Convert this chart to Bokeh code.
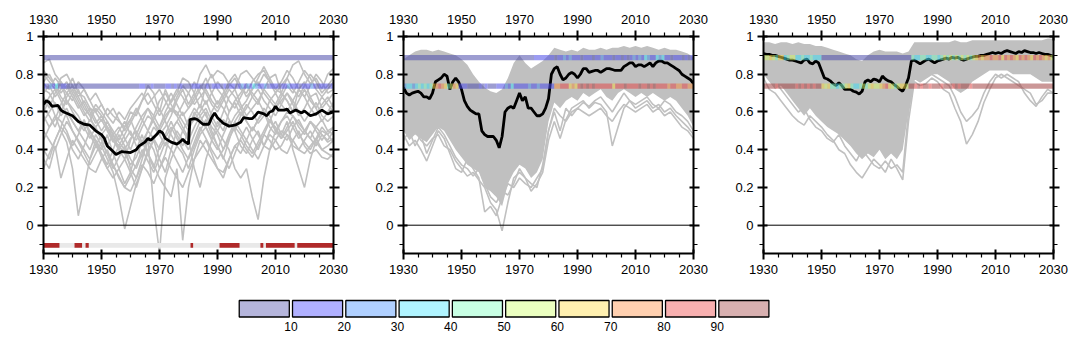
from bokeh.plotting import figure
from bokeh.models import Range1d, LinearAxis, FixedTicker, Span, CustomLabelingPolicy
from bokeh.layouts import column, row
from bokeh.core.properties import value
from bokeh.embed import file_html
from bokeh.resources import INLINE

FONT = "Liberation Sans"

# ---------------- data ----------------
X_MAJOR = [1930, 1950, 1970, 1990, 2010, 2030]
X_MINOR = [1935, 1940, 1945, 1955, 1960, 1965, 1975, 1980, 1985, 1995, 2000, 2005, 2015, 2020, 2025]
Y_MAJOR = [0, 0.2, 0.4, 0.6, 0.8, 1.0]
Y_LABELS = ["0", "0.2", "0.4", "0.6", "0.8", "1"]
Y_MINOR = [-0.1, 0.1, 0.3, 0.5, 0.7, 0.9]

YEARS2 = list(range(1930, 2031, 2))     # gray member lines
YEARS1 = list(range(1930, 2031))        # annual black lines
BAND_START = 1930
BAND_LEVELS = [0.888, 0.737]

# colour bar
CB_LEVELS = [0, 10, 20, 30, 40, 50, 60, 70, 80, 90, 100]
CB_LABELS = [10, 20, 30, 40, 50, 60, 70, 80, 90]
CB_COLORS = ["#b5b5dc", "#b0b0ff", "#b0d0ff", "#b0f4ff", "#c8ffe4",
             "#ebffc0", "#fff0b0", "#ffd0b0", "#f8b0b0", "#d8b0b0"]
BAND_COLORS = ["#4d4dab", "#4a4ae8", "#4a8ee8", "#41d8f0", "#7bf0be",
               "#cff068", "#f0d041", "#f08e41", "#e04848", "#a14141"]

# ---- panel 1 ----
P1_BLACK_YEARS = [1930, 1931, 1932, 1933, 1935, 1936, 1937, 1940, 1942, 1944, 1946, 1948,
                  1950, 1951, 1952, 1954, 1955, 1957, 1960, 1962, 1963, 1965, 1966, 1967, 1969,
                  1970, 1971, 1972, 1974, 1976, 1977, 1978, 1979, 1980, 1980.5, 1982, 1983, 1985,
                  1987, 1988, 1989, 1990, 1992, 1994, 1996, 1998, 1999, 2001, 2002, 2003, 2004,
                  2006, 2007, 2008, 2009, 2010, 2011, 2013, 2014, 2015, 2017, 2019, 2020, 2022,
                  2024, 2026, 2028, 2030]
P1_BLACK = [0.64, 0.66, 0.65, 0.63, 0.635, 0.61, 0.60, 0.58, 0.55, 0.535, 0.53, 0.50,
            0.48, 0.46, 0.42, 0.39, 0.375, 0.39, 0.385, 0.40, 0.42, 0.44, 0.46, 0.45, 0.48,
            0.50, 0.49, 0.46, 0.44, 0.43, 0.44, 0.455, 0.44, 0.43, 0.56, 0.565, 0.56, 0.535,
            0.535, 0.57, 0.595, 0.57, 0.54, 0.525, 0.53, 0.545, 0.57, 0.565, 0.565, 0.58, 0.60,
            0.59, 0.58, 0.60, 0.605, 0.63, 0.61, 0.61, 0.615, 0.595, 0.61, 0.595, 0.605, 0.58,
            0.59, 0.61, 0.59, 0.60]

P1_GRAY = [
    [0.86, 0.88, 0.80, 0.76, 0.72, 0.78, 0.70, 0.68, 0.62, 0.60,
     0.55, 0.62, 0.58, 0.55, 0.52, 0.60, 0.58, 0.66, 0.74, 0.70,
     0.60, 0.72, 0.65, 0.70, 0.78, 0.76, 0.70, 0.80, 0.85, 0.78,
     0.82, 0.80, 0.75, 0.72, 0.80, 0.82, 0.78, 0.74, 0.80, 0.76,
     0.72, 0.70, 0.78, 0.85, 0.87, 0.80, 0.75, 0.78, 0.72, 0.80, 0.83],
    [0.75, 0.72, 0.78, 0.74, 0.70, 0.66, 0.72, 0.64, 0.58, 0.50,
     0.46, 0.42, 0.48, 0.40, 0.35, 0.45, 0.52, 0.58, 0.62, 0.55,
     0.48, 0.52, 0.58, 0.66, 0.72, 0.64, 0.70, 0.62, 0.74, 0.80,
     0.72, 0.68, 0.60, 0.66, 0.70, 0.75, 0.68, 0.64, 0.72, 0.78,
     0.80, 0.70, 0.66, 0.60, 0.72, 0.76, 0.68, 0.70, 0.62, 0.66, 0.70],
    [0.68, 0.62, 0.70, 0.76, 0.66, 0.60, 0.55, 0.50, 0.56, 0.52,
     0.45, 0.38, 0.30, 0.36, 0.42, 0.30, 0.25, 0.35, 0.45, 0.40,
     0.30, 0.38, 0.50, 0.55, 0.60, 0.52, 0.56, 0.60, 0.66, 0.58,
     0.52, 0.60, 0.68, 0.72, 0.64, 0.58, 0.62, 0.66, 0.60, 0.55,
     0.62, 0.66, 0.70, 0.64, 0.58, 0.62, 0.68, 0.62, 0.55, 0.60, 0.65],
    [0.60, 0.66, 0.58, 0.50, 0.44, 0.30, 0.05, 0.20, 0.35, 0.45,
     0.40, 0.48, 0.38, 0.30, 0.22, 0.28, 0.40, 0.48, 0.38, 0.30,
     0.42, 0.48, 0.55, 0.48, 0.42, 0.50, 0.60, 0.55, 0.52, 0.46,
     0.50, 0.56, 0.52, 0.58, 0.62, 0.55, 0.50, 0.56, 0.60, 0.52,
     0.48, 0.55, 0.60, 0.58, 0.52, 0.48, 0.55, 0.50, 0.45, 0.50, 0.52],
    [0.55, 0.60, 0.65, 0.58, 0.62, 0.55, 0.50, 0.45, 0.40, 0.48,
     0.42, 0.35, 0.28, 0.15, -0.02, 0.10, 0.22, 0.30, 0.40, 0.45,
     0.35, 0.28, 0.40, 0.50, 0.45, 0.40, 0.48, 0.55, 0.60, 0.50,
     0.42, 0.35, 0.45, 0.55, 0.50, 0.45, 0.52, 0.48, 0.42, 0.50,
     0.55, 0.48, 0.45, 0.52, 0.56, 0.50, 0.46, 0.42, 0.48, 0.45, 0.50],
    [0.40, 0.35, 0.45, 0.52, 0.48, 0.40, 0.35, 0.42, 0.50, 0.45,
     0.38, 0.32, 0.40, 0.48, 0.42, 0.35, 0.30, 0.38, 0.45, 0.10,
     -0.15, 0.25, 0.35, 0.42, 0.38, 0.30, 0.40, 0.48, 0.52, 0.45,
     0.40, 0.48, 0.55, 0.50, 0.42, 0.38, 0.45, 0.50, 0.42, 0.40,
     0.45, 0.50, 0.48, 0.42, 0.40, 0.45, 0.50, 0.44, 0.40, 0.42, 0.45],
    [0.50, 0.45, 0.40, 0.48, 0.55, 0.50, 0.45, 0.40, 0.35, 0.42,
     0.38, 0.30, 0.25, 0.30, 0.35, 0.28, 0.20, 0.30, 0.38, 0.32,
     0.25, 0.20, 0.15, 0.30, -0.08, 0.20, 0.35, 0.40, 0.45, 0.38,
     0.30, 0.25, 0.35, 0.42, 0.38, 0.45, 0.40, 0.35, 0.42, 0.48,
     0.45, 0.40, 0.38, 0.45, 0.50, 0.42, 0.38, 0.40, 0.36, 0.35, 0.38],
    [0.30, 0.38, 0.45, 0.52, 0.60, 0.55, 0.50, 0.56, 0.48, 0.42,
     0.48, 0.52, 0.45, 0.40, 0.45, 0.50, 0.42, 0.36, 0.45, 0.52,
     0.48, 0.42, 0.50, 0.55, 0.50, 0.45, 0.52, 0.58, 0.62, 0.55,
     0.50, 0.45, 0.40, 0.30, 0.25, 0.30, 0.15, 0.03, 0.25, 0.40,
     0.50, 0.55, 0.58, 0.52, 0.46, 0.50, 0.55, 0.52, 0.48, 0.44, 0.46],
    [0.62, 0.58, 0.52, 0.60, 0.66, 0.62, 0.58, 0.52, 0.46, 0.52,
     0.56, 0.50, 0.44, 0.50, 0.55, 0.48, 0.45, 0.52, 0.58, 0.55,
     0.50, 0.56, 0.62, 0.60, 0.55, 0.50, 0.58, 0.64, 0.58, 0.52,
     0.48, 0.40, 0.48, 0.55, 0.60, 0.55, 0.50, 0.56, 0.62, 0.58,
     0.50, 0.48, 0.55, 0.40, 0.30, 0.20, 0.35, 0.45, 0.50, 0.48, 0.52],
    [0.72, 0.70, 0.64, 0.60, 0.68, 0.72, 0.66, 0.60, 0.55, 0.62,
     0.58, 0.52, 0.48, 0.44, 0.40, 0.46, 0.50, 0.44, 0.38, 0.45,
     0.52, 0.58, 0.62, 0.58, 0.52, 0.46, 0.30, 0.20, 0.35, 0.45,
     0.55, 0.50, 0.60, 0.65, 0.58, 0.62, 0.68, 0.72, 0.66, 0.62,
     0.58, 0.64, 0.70, 0.66, 0.60, 0.55, 0.60, 0.65, 0.58, 0.55, 0.58],
    [0.35, 0.30, 0.42, 0.25, 0.35, 0.45, 0.40, 0.35, 0.30, 0.28,
     0.35, 0.40, 0.32, 0.25, 0.20, 0.18, 0.25, 0.32, 0.28, 0.22,
     0.30, 0.36, 0.30, 0.25, 0.20, 0.28, 0.35, 0.45, 0.40, 0.35,
     0.30, 0.28, 0.35, 0.42, 0.45, 0.40, 0.36, 0.42, 0.48, 0.45,
     0.40, 0.42, 0.48, 0.45, 0.40, 0.38, 0.42, 0.46, 0.40, 0.38, 0.36],
    [0.80, 0.76, 0.72, 0.78, 0.80, 0.74, 0.68, 0.72, 0.66, 0.60,
     0.64, 0.58, 0.54, 0.60, 0.56, 0.62, 0.66, 0.70, 0.64, 0.68,
     0.72, 0.66, 0.60, 0.68, 0.74, 0.70, 0.64, 0.68, 0.72, 0.66,
     0.62, 0.68, 0.74, 0.78, 0.72, 0.70, 0.76, 0.80, 0.82, 0.76,
     0.70, 0.74, 0.78, 0.72, 0.68, 0.74, 0.80, 0.76, 0.70, 0.74, 0.78],
    [0.70, 0.74, 0.68, 0.72, 0.76, 0.70, 0.64, 0.58, 0.62, 0.56,
     0.50, 0.55, 0.48, 0.52, 0.46, 0.40, 0.48, 0.55, 0.62, 0.58,
     0.52, 0.60, 0.66, 0.72, 0.68, 0.62, 0.66, 0.72, 0.78, 0.70,
     0.64, 0.70, 0.76, 0.80, 0.74, 0.68, 0.72, 0.78, 0.84, 0.78,
     0.72, 0.76, 0.82, 0.78, 0.72, 0.68, 0.74, 0.80, 0.76, 0.70, 0.72],
    [0.58, 0.52, 0.56, 0.64, 0.70, 0.74, 0.68, 0.62, 0.58, 0.64,
     0.60, 0.55, 0.50, 0.45, 0.52, 0.56, 0.48, 0.42, 0.50, 0.56,
     0.62, 0.55, 0.48, 0.42, 0.50, 0.56, 0.62, 0.58, 0.52, 0.60,
     0.66, 0.62, 0.56, 0.50, 0.58, 0.64, 0.60, 0.54, 0.58, 0.66,
     0.70, 0.64, 0.60, 0.66, 0.72, 0.68, 0.62, 0.58, 0.64, 0.68, 0.62],
    [0.45, 0.52, 0.58, 0.55, 0.50, 0.42, 0.48, 0.55, 0.50, 0.44,
     0.36, 0.30, 0.35, 0.42, 0.38, 0.32, 0.36, 0.44, 0.50, 0.46,
     0.40, 0.46, 0.52, 0.46, 0.40, 0.35, 0.42, 0.50, 0.56, 0.48,
     0.42, 0.36, 0.30, 0.38, 0.46, 0.52, 0.46, 0.40, 0.48, 0.55,
     0.52, 0.46, 0.50, 0.55, 0.48, 0.44, 0.40, 0.46, 0.52, 0.48, 0.44],
    [0.82, 0.78, 0.74, 0.70, 0.74, 0.68, 0.62, 0.66, 0.60, 0.54,
     0.58, 0.52, 0.46, 0.42, 0.48, 0.54, 0.60, 0.66, 0.70, 0.64,
     0.58, 0.64, 0.70, 0.64, 0.58, 0.62, 0.68, 0.74, 0.70, 0.64,
     0.60, 0.66, 0.72, 0.68, 0.62, 0.66, 0.72, 0.76, 0.70, 0.66,
     0.62, 0.68, 0.74, 0.70, 0.76, 0.82, 0.78, 0.72, 0.68, 0.72, 0.76],
    [0.62, 0.68, 0.72, 0.66, 0.58, 0.50, 0.44, 0.38, 0.32, 0.38,
     0.44, 0.38, 0.32, 0.26, 0.20, 0.26, 0.32, 0.40, 0.34, 0.28,
     0.36, 0.44, 0.40, 0.34, 0.28, 0.36, 0.44, 0.52, 0.46, 0.40,
     0.35, 0.40, 0.46, 0.52, 0.48, 0.42, 0.38, 0.44, 0.50, 0.56,
     0.50, 0.46, 0.52, 0.58, 0.54, 0.50, 0.46, 0.52, 0.56, 0.50, 0.48],
    [0.76, 0.80, 0.74, 0.68, 0.64, 0.70, 0.76, 0.72, 0.66, 0.70,
     0.64, 0.58, 0.62, 0.56, 0.50, 0.56, 0.62, 0.56, 0.50, 0.58,
     0.66, 0.70, 0.64, 0.58, 0.64, 0.70, 0.76, 0.70, 0.64, 0.70,
     0.76, 0.72, 0.66, 0.62, 0.68, 0.74, 0.70, 0.66, 0.72, 0.68,
     0.64, 0.70, 0.66, 0.60, 0.66, 0.72, 0.66, 0.62, 0.68, 0.64, 0.60],
]

P1_BAND_TOP = "0" * 100
P1_BAND_LOW = ("1021301100" "0000000000" "0000000000" "0001100100" "0011010100"
               "0111001011" "1010110121" "2132112011" "1011211101" "1121011101")

STRIP_RED_START = [1930, 1940.7, 1944.5, 1980.7, 1990.7, 2004.8, 2006.7, 2017.5]
STRIP_RED_END = [1935.5, 1943.3, 1945.6, 1981.6, 1997.6, 2005.8, 2016.6, 2030]

# ---- panel 2 ----
P2_BLACK = [0.73, 0.70, 0.69, 0.70, 0.705, 0.71, 0.70, 0.68, 0.68, 0.67,
            0.70, 0.76, 0.77, 0.78, 0.80, 0.79, 0.72, 0.76, 0.78, 0.76,
            0.72, 0.66, 0.63, 0.61, 0.60, 0.59, 0.59, 0.50, 0.48, 0.47,
            0.47, 0.47, 0.45, 0.41, 0.47, 0.60, 0.62, 0.63, 0.62, 0.66,
            0.70, 0.66, 0.68, 0.62, 0.62, 0.60, 0.58, 0.58, 0.59, 0.62,
            0.67, 0.80, 0.83, 0.84, 0.80, 0.77, 0.78, 0.80, 0.81, 0.80,
            0.78, 0.80, 0.83, 0.83, 0.81, 0.815, 0.82, 0.82, 0.81, 0.82,
            0.83, 0.83, 0.825, 0.82, 0.82, 0.82, 0.84, 0.85, 0.86, 0.86,
            0.84, 0.85, 0.85, 0.84, 0.85, 0.86, 0.84, 0.86, 0.87, 0.87,
            0.86, 0.86, 0.85, 0.84, 0.83, 0.82, 0.80, 0.79, 0.78, 0.77, 0.75]
P2_UPPER = [0.88, 0.90, 0.92, 0.93, 0.93, 0.92, 0.93, 0.92, 0.91, 0.90,
            0.88, 0.85, 0.80, 0.76, 0.73, 0.71, 0.70, 0.72, 0.78, 0.86,
            0.90, 0.86, 0.83, 0.85, 0.87, 0.90, 0.94, 0.93, 0.92, 0.93,
            0.92, 0.94, 0.93, 0.93, 0.94, 0.93, 0.94, 0.94, 0.95, 0.94,
            0.95, 0.94, 0.95, 0.94, 0.93, 0.94, 0.93, 0.93, 0.92, 0.91, 0.89]
P2_LOWER = [0.50, 0.45, 0.48, 0.46, 0.44, 0.48, 0.52, 0.50, 0.45, 0.40,
            0.36, 0.32, 0.30, 0.28, 0.20, 0.18, 0.15, 0.10, 0.22, 0.28,
            0.32, 0.30, 0.25, 0.28, 0.35, 0.55, 0.65, 0.62, 0.66, 0.68,
            0.66, 0.70, 0.68, 0.70, 0.72, 0.68, 0.66, 0.70, 0.72, 0.70,
            0.68, 0.70, 0.68, 0.70, 0.68, 0.66, 0.68, 0.66, 0.62, 0.58, 0.52]
P2_GRAY = [
    [0.48, 0.42, 0.45, 0.40, 0.34, 0.42, 0.50, 0.46, 0.38, 0.30,
     0.28, 0.35, 0.30, 0.25, 0.07, 0.10, 0.05, 0.15, 0.22, 0.20,
     0.25, 0.22, 0.20, 0.25, 0.30, 0.50, 0.62, 0.58, 0.55, 0.60,
     0.62, 0.65, 0.63, 0.66, 0.68, 0.64, 0.60, 0.65, 0.70, 0.66,
     0.64, 0.66, 0.68, 0.64, 0.62, 0.66, 0.64, 0.60, 0.58, 0.55, 0.50],
    [0.52, 0.48, 0.50, 0.45, 0.42, 0.46, 0.48, 0.42, 0.40, 0.34,
     0.30, 0.26, 0.28, 0.24, 0.20, 0.12, 0.08, -0.03, 0.12, 0.25,
     0.28, 0.25, 0.18, 0.22, 0.28, 0.45, 0.55, 0.46, 0.56, 0.62,
     0.64, 0.66, 0.62, 0.65, 0.64, 0.60, 0.42, 0.52, 0.62, 0.66,
     0.62, 0.64, 0.66, 0.62, 0.64, 0.60, 0.62, 0.58, 0.55, 0.52, 0.48],
    [0.45, 0.50, 0.42, 0.48, 0.38, 0.45, 0.52, 0.48, 0.42, 0.36,
     0.32, 0.30, 0.26, 0.30, 0.22, 0.15, 0.12, 0.18, 0.16, 0.22,
     0.30, 0.25, 0.22, 0.20, 0.32, 0.50, 0.60, 0.50, 0.62, 0.58,
     0.62, 0.60, 0.58, 0.60, 0.62, 0.58, 0.55, 0.60, 0.64, 0.62,
     0.60, 0.62, 0.64, 0.60, 0.62, 0.58, 0.60, 0.56, 0.52, 0.50, 0.46],
]
P2_BAND_TOP = ("0000000000" "0000000000" "0000000000" "0000000000" "0000011111"
               "1101121211" "1011101121" "1101101012" "1213211323" "1101110101")
P2_BAND_LOW = ("2332343434" "6787645761" "1100001010" "0011121311" "1112112111"
               "1177888676" "8989898888" "8868889888" "8988989888" "8788778877")

# ---- panel 3 ----
P3_BLACK = [0.91, 0.905, 0.905, 0.90, 0.90, 0.895, 0.89, 0.885, 0.88, 0.875,
            0.875, 0.87, 0.865, 0.86, 0.875, 0.88, 0.86, 0.855, 0.87, 0.86,
            0.82, 0.78, 0.775, 0.765, 0.75, 0.74, 0.755, 0.74, 0.72, 0.72,
            0.72, 0.71, 0.705, 0.695, 0.71, 0.76, 0.77, 0.76, 0.775, 0.77,
            0.76, 0.79, 0.775, 0.765, 0.76, 0.745, 0.735, 0.72, 0.71, 0.74,
            0.78, 0.87, 0.875, 0.865, 0.855, 0.865, 0.875, 0.88, 0.87, 0.86,
            0.87, 0.875, 0.88, 0.885, 0.88, 0.89, 0.885, 0.89, 0.88, 0.875,
            0.88, 0.885, 0.89, 0.895, 0.895, 0.90, 0.90, 0.905, 0.91, 0.915,
            0.91, 0.915, 0.91, 0.92, 0.925, 0.92, 0.915, 0.91, 0.92, 0.915,
            0.925, 0.92, 0.915, 0.915, 0.91, 0.915, 0.91, 0.905, 0.905, 0.90, 0.895]
P3_UPPER = [0.97, 0.97, 0.96, 0.97, 0.97, 0.96, 0.97, 0.96, 0.96, 0.95,
            0.95, 0.94, 0.93, 0.92, 0.91, 0.90, 0.88, 0.87, 0.90, 0.92,
            0.93, 0.92, 0.92, 0.92, 0.91, 0.92, 0.97, 0.97, 0.97, 0.97,
            0.97, 0.97, 0.97, 0.98, 0.97, 0.97, 0.98, 0.98, 0.98, 0.98,
            0.98, 0.98, 0.98, 0.98, 0.98, 0.98, 0.98, 0.98, 0.98, 0.99, 0.99]
P3_LOWER = [0.80, 0.76, 0.72, 0.74, 0.70, 0.66, 0.62, 0.58, 0.62, 0.58,
            0.55, 0.52, 0.50, 0.48, 0.45, 0.42, 0.38, 0.35, 0.38, 0.36,
            0.40, 0.35, 0.38, 0.35, 0.40, 0.60, 0.78, 0.76, 0.78, 0.80,
            0.80, 0.78, 0.76, 0.72, 0.70, 0.72, 0.76, 0.78, 0.80, 0.82,
            0.82, 0.82, 0.82, 0.80, 0.80, 0.80, 0.80, 0.78, 0.76, 0.76, 0.76]
P3_GRAY = [
    [0.78, 0.72, 0.70, 0.66, 0.62, 0.58, 0.55, 0.53, 0.58, 0.55,
     0.52, 0.48, 0.45, 0.40, 0.38, 0.32, 0.28, 0.25, 0.30, 0.35,
     0.32, 0.28, 0.35, 0.30, 0.24, 0.55, 0.76, 0.74, 0.75, 0.78,
     0.76, 0.72, 0.70, 0.62, 0.55, 0.43, 0.48, 0.55, 0.65, 0.72,
     0.78, 0.80, 0.78, 0.76, 0.74, 0.72, 0.70, 0.64, 0.66, 0.70, 0.70],
    [0.82, 0.78, 0.76, 0.72, 0.68, 0.64, 0.60, 0.62, 0.56, 0.52,
     0.50, 0.46, 0.44, 0.48, 0.42, 0.38, 0.34, 0.40, 0.36, 0.32,
     0.30, 0.34, 0.30, 0.32, 0.28, 0.60, 0.78, 0.76, 0.78, 0.80,
     0.78, 0.76, 0.74, 0.68, 0.60, 0.55, 0.58, 0.62, 0.70, 0.76,
     0.80, 0.78, 0.80, 0.78, 0.76, 0.70, 0.66, 0.63, 0.68, 0.72, 0.70],
]
P3_BAND_TOP = ("5565466345" "5334334333" "0000000000" "0000000000" "0000000000"
               "0433443344" "3454545454" "5456767787" "7868787687" "8768787675")
P3_BAND_LOW = ("9999899999" "9898989899" "6564434456" "4334545655" "6786545665"
               "9989899899" "9899989899" "9899999999" "9999999999" "9999999999")

# ---------------- helpers ----------------
GRAY = "#c0c0c0"
HIDE_LABELS = "for (const i of indices) { indices.unset(i) }"


def style_axis(ax, standoff, size="13px"):
    ax.axis_line_width = 2
    ax.axis_line_color = "black"
    ax.major_tick_line_width = 2
    ax.minor_tick_line_width = 1.2
    ax.major_tick_out = 6
    ax.major_tick_in = 4
    ax.minor_tick_out = 4
    ax.minor_tick_in = 0
    ax.major_label_text_font = FONT
    ax.major_label_text_font_size = size
    ax.major_label_text_color = "black"
    ax.major_label_standoff = standoff


def band_runs(codes):
    idx = [int(c) for c in codes]
    runs = []
    s = 0
    for i in range(1, len(idx) + 1):
        if i == len(idx) or idx[i] != idx[s]:
            runs.append((BAND_START + s, BAND_START + i, idx[s]))
            s = i
    return runs


def make_panel(width, right_border, black_x, black_y, gray_lines, bands,
               env=None, strip=False):
    p = figure(width=width, height=285, x_range=Range1d(1930, 2030),
               y_range=Range1d(-0.15, 1.0), output_backend="svg",
               toolbar_location=None, min_border_left=43, min_border_right=right_border,
               min_border_top=36, min_border_bottom=32,
               x_axis_location=None, y_axis_location=None)
    p.grid.visible = False
    p.outline_line_color = None
    for loc, so in (("below", 5), ("above", 7)):
        ax = LinearAxis(ticker=FixedTicker(ticks=X_MAJOR, minor_ticks=X_MINOR))
        style_axis(ax, so)
        p.add_layout(ax, loc)
    ax = LinearAxis(ticker=FixedTicker(ticks=Y_MAJOR, minor_ticks=Y_MINOR),
                    major_label_overrides={t: s for t, s in zip(Y_MAJOR, Y_LABELS)})
    style_axis(ax, 4)
    p.add_layout(ax, "left")
    ax = LinearAxis(ticker=FixedTicker(ticks=Y_MAJOR, minor_ticks=Y_MINOR),
                    major_label_policy=CustomLabelingPolicy(code=HIDE_LABELS))
    style_axis(ax, 0, "1px")
    p.add_layout(ax, "right")

    if env is not None:
        p.varea(x=YEARS2, y1=env[1], y2=env[0], fill_color=GRAY)
    p.multi_line(xs=[YEARS2[:len(g)] for g in gray_lines], ys=gray_lines,
                 line_color=GRAY, line_width=1.6)
    p.add_layout(Span(location=0, dimension="width", line_color="black", line_width=1))
    if strip:
        p.quad(left=[1930], right=[2030], bottom=-0.119, top=-0.095,
               fill_color="#e9e9e9", line_color=None)
        p.quad(left=STRIP_RED_START, right=STRIP_RED_END, bottom=-0.119, top=-0.095,
               fill_color="#b02a2a", line_color=None)
    p.line(black_x, black_y, line_color="black", line_width=2.8)
    for level, codes in zip(BAND_LEVELS, bands):
        runs = band_runs(codes)
        p.quad(left=[r[0] for r in runs], right=[r[1] for r in runs],
               bottom=level - 0.014, top=level + 0.014,
               fill_color=[BAND_COLORS[r[2]] for r in runs], fill_alpha=0.55,
               line_color=None)
    return p


p1 = make_panel(360, 27, P1_BLACK_YEARS, P1_BLACK, P1_GRAY,
                (P1_BAND_TOP, P1_BAND_LOW), strip=True)
p2 = make_panel(360, 27, YEARS1, P2_BLACK, P2_GRAY,
                (P2_BAND_TOP, P2_BAND_LOW), env=(P2_UPPER, P2_LOWER))
p3 = make_panel(358, 25, YEARS1, P3_BLACK, P3_GRAY,
                (P3_BAND_TOP, P3_BAND_LOW), env=(P3_UPPER, P3_LOWER))

# colour bar
cb = figure(width=1078, height=55, x_range=Range1d(-44.5, 157.8), y_range=Range1d(55, 0),
            output_backend="svg", toolbar_location=None, min_border=0,
            x_axis_location=None, y_axis_location=None)
cb.grid.visible = False
cb.outline_line_color = None
cb.quad(left=[l + 0.3 for l in CB_LEVELS[:-1]], right=[l - 0.3 for l in CB_LEVELS[1:]],
        top=15, bottom=31.5, fill_color=CB_COLORS, line_color="black", line_width=1.3)
cb.text(x=CB_LABELS, y=[36] * len(CB_LABELS), text=[str(v) for v in CB_LABELS],
        text_align="center", text_baseline="top", text_font=value(FONT),
        text_font_size="12px", text_color="black")

layout = column(row(p1, p2, p3), cb)
open("out.html", "w").write(file_html(layout, INLINE))
